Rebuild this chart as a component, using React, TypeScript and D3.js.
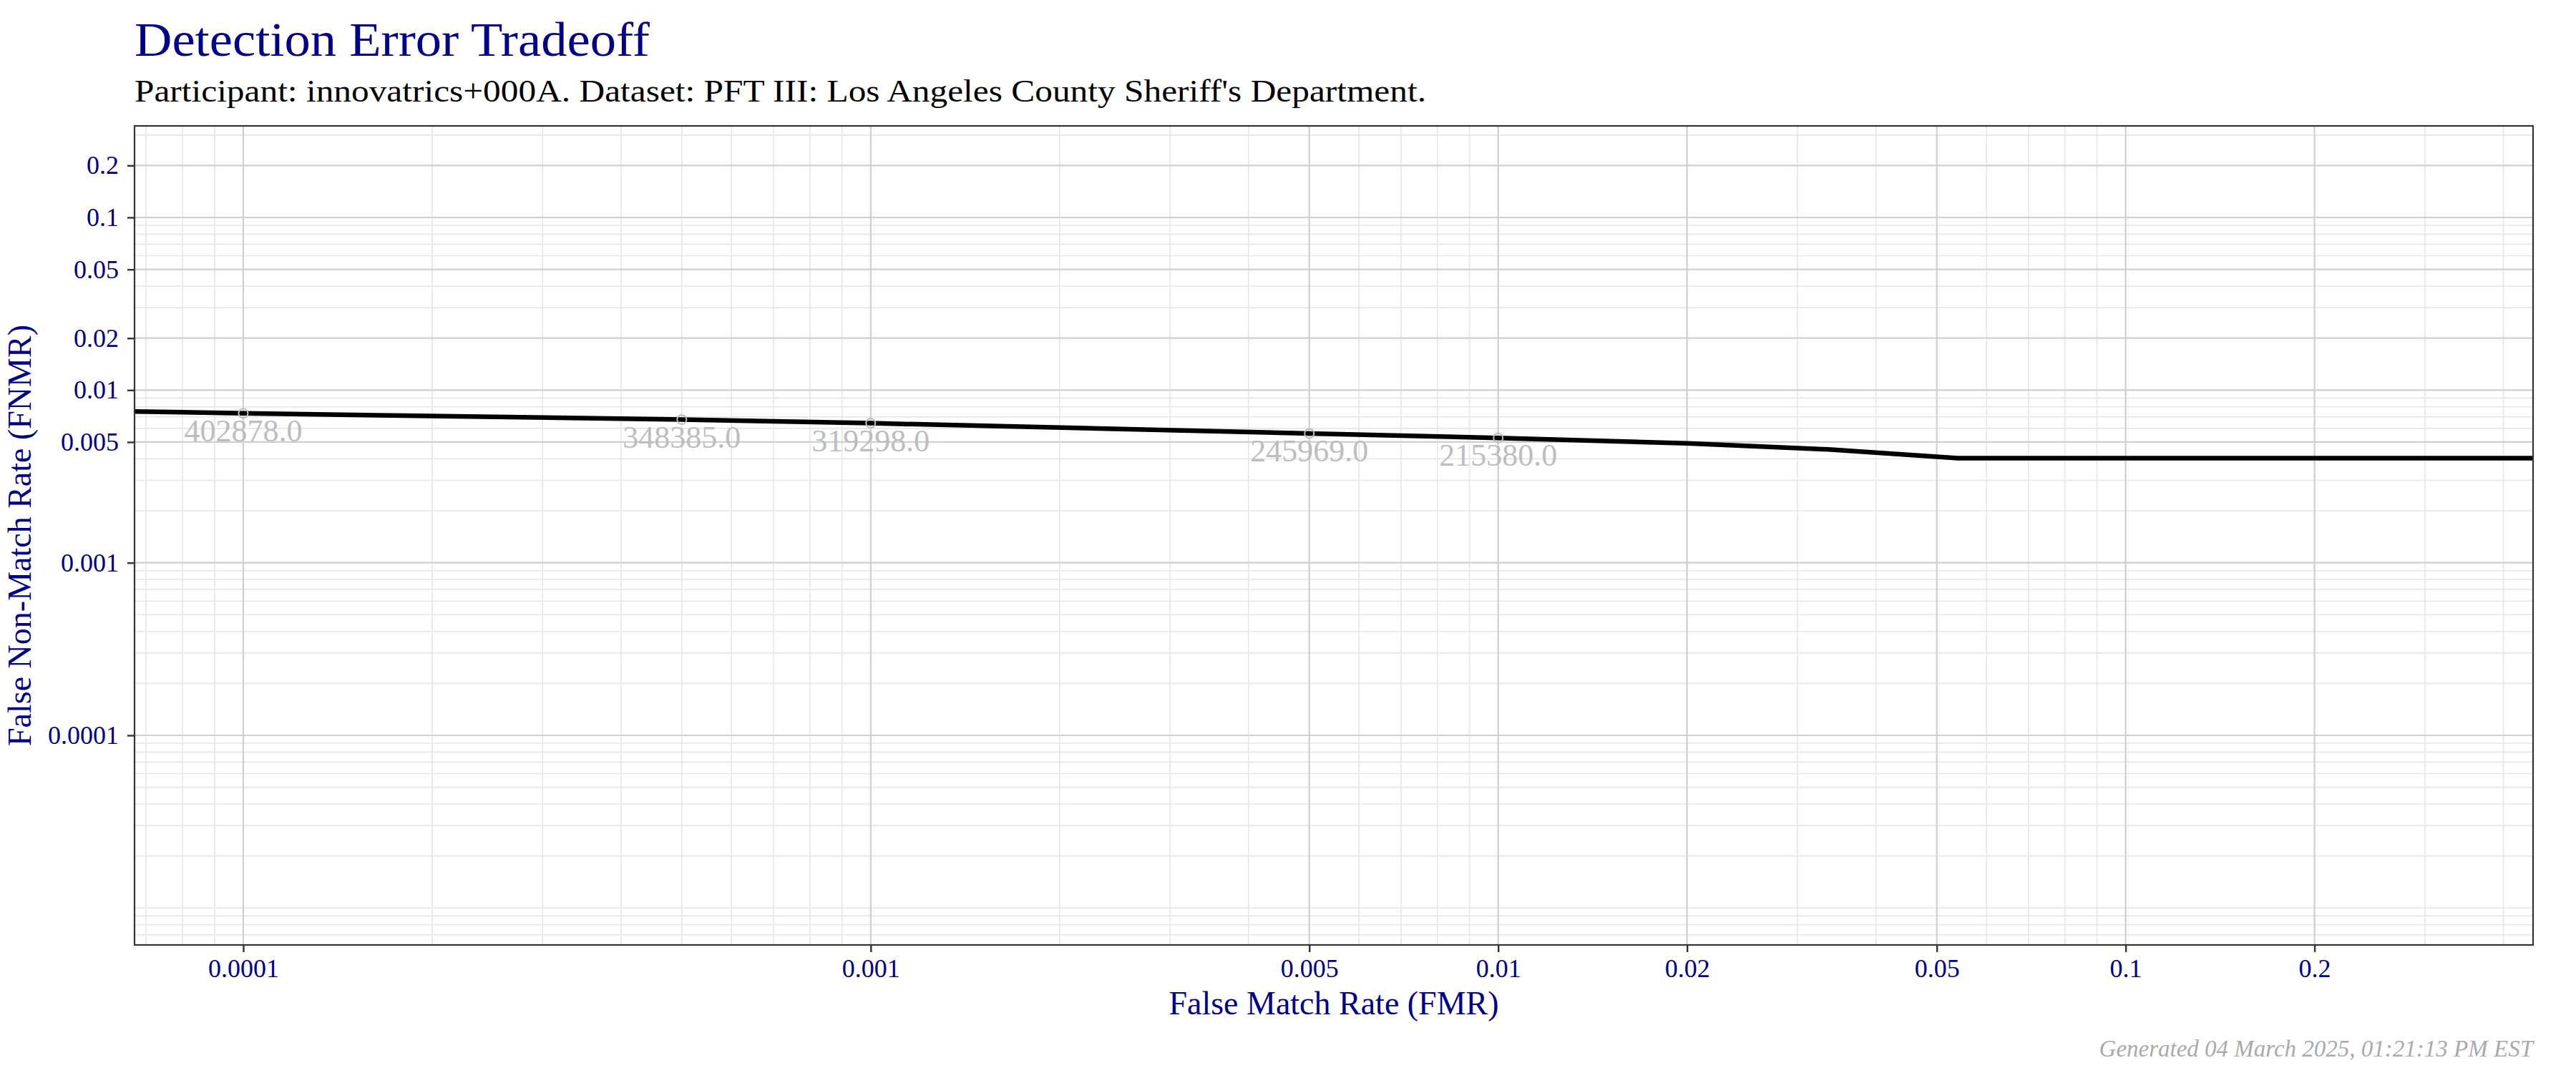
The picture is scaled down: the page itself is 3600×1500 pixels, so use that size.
import React, { useEffect, useRef } from "react";
import * as d3 from "d3";

const W = 3600;
const H = 1500;
const margin = { left: 188, right: 60, top: 176, bottom: 179 };

// DET curve (FMR vs FNMR)
const fmr = [6.7e-5, 1e-4, 5e-4, 1e-3, 5e-3, 1e-2, 2e-2, 3.36e-2, 5.4e-2, 0.5];
const fnmr = [0.00752, 0.00734, 0.00675, 0.00643, 0.00561, 0.00528, 0.00491, 0.00453, 0.00403, 0.00403];

// annotated operating points with their thresholds
const pointFmr = [1e-4, 5e-4, 1e-3, 5e-3, 1e-2];
const pointFnmr = [0.00734, 0.00675, 0.00643, 0.00561, 0.00528];
const thresholds = ["402878.0", "348385.0", "319298.0", "245969.0", "215380.0"];

const xTicks = [0.0001, 0.001, 0.005, 0.01, 0.02, 0.05, 0.1, 0.2];
const yTicks = [0.0001, 0.001, 0.005, 0.01, 0.02, 0.05, 0.1, 0.2];
const xDomain = [6.71e-5, 0.446];
const yDomain = [6.107e-6, 0.3391];

const BLUE = "#00008B";
const FONT = "'Liberation Serif', 'DejaVu Serif', serif";

export default function App() {
  const ref = useRef<SVGSVGElement>(null);

  useEffect(() => {
    const svg = d3.select(ref.current);
    svg.selectAll("*").remove();

    const x0 = margin.left;
    const x1 = W - margin.right;
    const y0 = margin.top;
    const y1 = H - margin.bottom;

    const x = d3.scaleLog().domain(xDomain).range([x0, x1]);
    const y = d3.scaleLog().domain(yDomain).range([y1, y0]);

    svg.append("rect").attr("width", W).attr("height", H).attr("fill", "#fff");

    // minor grid: every k * 10^n that is not a labelled tick
    const minors: number[] = [];
    for (let e = -7; e <= 0; e++) {
      for (let k = 1; k <= 9; k++) minors.push(+(k * Math.pow(10, e)).toPrecision(3));
    }
    const isMajor = (v: number, ticks: number[]) => ticks.some(t => Math.abs(t - v) / t < 1e-6);
    const xMinor = minors.filter(v => v >= xDomain[0] && v <= xDomain[1] && !isMajor(v, xTicks));
    const yMinor = minors.filter(v => v >= yDomain[0] && v <= yDomain[1] && !isMajor(v, yTicks));

    const grid = svg.append("g");
    grid
      .selectAll("line.ymin")
      .data(yMinor)
      .enter()
      .append("line")
      .attr("x1", x0)
      .attr("x2", x1)
      .attr("y1", d => y(d))
      .attr("y2", d => y(d))
      .attr("stroke", "#e6e6e6")
      .attr("stroke-width", 1.6);
    grid
      .selectAll("line.xmin")
      .data(xMinor)
      .enter()
      .append("line")
      .attr("y1", y0)
      .attr("y2", y1)
      .attr("x1", d => x(d))
      .attr("x2", d => x(d))
      .attr("stroke", "#e6e6e6")
      .attr("stroke-width", 1.6);
    grid
      .selectAll("line.ymaj")
      .data(yTicks)
      .enter()
      .append("line")
      .attr("x1", x0)
      .attr("x2", x1)
      .attr("y1", d => y(d))
      .attr("y2", d => y(d))
      .attr("stroke", "#cfcfcf")
      .attr("stroke-width", 2.2);
    grid
      .selectAll("line.xmaj")
      .data(xTicks)
      .enter()
      .append("line")
      .attr("y1", y0)
      .attr("y2", y1)
      .attr("x1", d => x(d))
      .attr("x2", d => x(d))
      .attr("stroke", "#cfcfcf")
      .attr("stroke-width", 2.2);

    svg
      .append("clipPath")
      .attr("id", "panel")
      .append("rect")
      .attr("x", x0)
      .attr("y", y0)
      .attr("width", x1 - x0)
      .attr("height", y1 - y0);

    const line = d3
      .line<number>()
      .x(d => x(d))
      .y((d, i) => y(fnmr[i]));

    svg
      .append("path")
      .datum(fmr)
      .attr("clip-path", "url(#panel)")
      .attr("d", line)
      .attr("fill", "none")
      .attr("stroke", "#000")
      .attr("stroke-width", 6.5);

    svg
      .selectAll("circle.pt")
      .data(pointFmr)
      .enter()
      .append("circle")
      .attr("cx", d => x(d))
      .attr("cy", (d, i) => y(pointFnmr[i]))
      .attr("r", 6.5)
      .attr("fill", "none")
      .attr("stroke", "#bdbdbd")
      .attr("stroke-width", 2);

    svg
      .selectAll("text.thr")
      .data(thresholds)
      .enter()
      .append("text")
      .attr("x", (d, i) => x(pointFmr[i]))
      .attr("y", (d, i) => y(pointFnmr[i]) + 39)
      .attr("text-anchor", "middle")
      .attr("font-family", FONT)
      .attr("font-size", 44)
      .attr("fill", "#bdbdbd")
      .text(d => d);

    svg
      .append("rect")
      .attr("x", x0)
      .attr("y", y0)
      .attr("width", x1 - x0)
      .attr("height", y1 - y0)
      .attr("fill", "none")
      .attr("stroke", "#333")
      .attr("stroke-width", 2.2);

    const fmt = (d: number) => String(d);

    const gy = svg
      .append("g")
      .attr("transform", `translate(${x0},0)`)
      .call(
        d3
          .axisLeft(y)
          .tickValues(yTicks)
          .tickFormat(d => fmt(+d))
          .tickSize(10)
          .tickSizeOuter(0)
          .tickPadding(12)
      );
    gy.select(".domain").remove();
    gy.selectAll(".tick line").attr("stroke", "#333").attr("stroke-width", 2.4);
    gy.selectAll(".tick text")
      .attr("font-family", FONT)
      .attr("font-size", 36)
      .attr("fill", BLUE);

    const gx = svg
      .append("g")
      .attr("transform", `translate(0,${y1})`)
      .call(
        d3
          .axisBottom(x)
          .tickValues(xTicks)
          .tickFormat(d => fmt(+d))
          .tickSize(10)
          .tickSizeOuter(0)
      );
    gx.select(".domain").remove();
    gx.selectAll(".tick line").attr("stroke", "#333").attr("stroke-width", 2.4);
    gx.selectAll(".tick text")
      .attr("y", 45)
      .attr("dy", 0)
      .attr("font-family", FONT)
      .attr("font-size", 36)
      .attr("fill", BLUE);

    svg
      .append("text")
      .attr("x", (x0 + x1) / 2)
      .attr("y", 1418)
      .attr("text-anchor", "middle")
      .attr("font-family", FONT)
      .attr("font-size", 46)
      .attr("fill", BLUE)
      .text("False Match Rate (FMR)");

    svg
      .append("text")
      .attr("transform", `translate(43,${(y0 + y1) / 2}) rotate(-90)`)
      .attr("text-anchor", "middle")
      .attr("font-family", FONT)
      .attr("font-size", 46)
      .attr("fill", BLUE)
      .text("False Non-Match Rate (FNMR)");

    svg
      .append("text")
      .attr("x", x0)
      .attr("y", 78)
      .attr("font-family", FONT)
      .attr("font-size", 68)
      .attr("fill", BLUE)
      .attr("textLength", 720)
      .attr("lengthAdjust", "spacingAndGlyphs")
      .text("Detection Error Tradeoff");

    svg
      .append("text")
      .attr("x", x0)
      .attr("y", 142)
      .attr("font-family", FONT)
      .attr("font-size", 44)
      .attr("fill", "#000")
      .attr("textLength", 1805)
      .attr("lengthAdjust", "spacingAndGlyphs")
      .text("Participant: innovatrics+000A. Dataset: PFT III: Los Angeles County Sheriff's Department.");

    svg
      .append("text")
      .attr("x", x1)
      .attr("y", 1477)
      .attr("text-anchor", "end")
      .attr("font-family", FONT)
      .attr("font-style", "italic")
      .attr("font-size", 33)
      .attr("fill", "#aaaaaa")
      .text("Generated 04 March 2025, 01:21:13 PM EST");
  }, []);

  return (
    <svg
      ref={ref}
      width={W}
      height={H}
      style={{ position: "absolute", left: 0, top: 0, display: "block" }}
    />
  );
}
